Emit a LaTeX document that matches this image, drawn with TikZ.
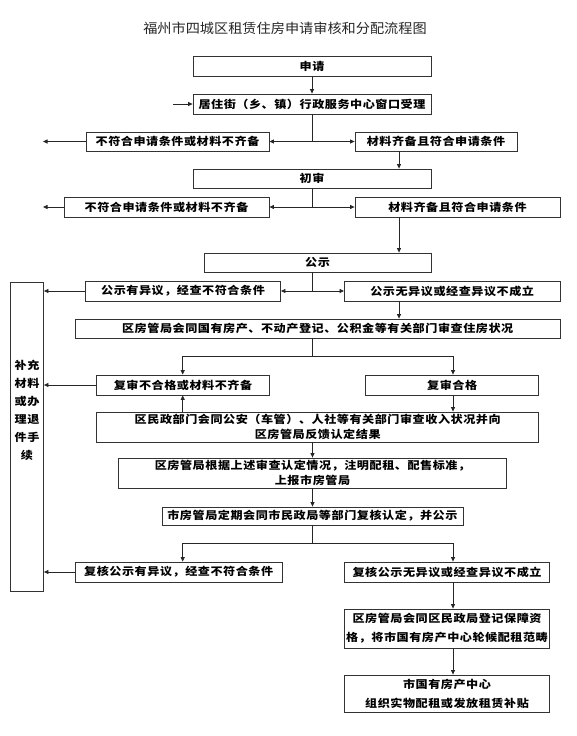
\documentclass[tikz,border=0pt]{standalone}
\usepackage{fontspec}
\newfontfamily\cjk[FakeStretch=1.12,LetterSpace=5]{Noto Sans CJK SC}
\newfontfamily\cjktitle[FakeStretch=1.05]{Noto Sans CJK SC}
\usetikzlibrary{arrows.meta}
\tikzset{
  box/.style={draw=black!80, line width=0.8pt, inner sep=0pt, align=center,
    font=\fontsize{10.8}{15}\cjk\bfseries},
  link/.style={draw=black!85, line width=0.8pt},
  conn/.style={link, -{Triangle[length=4.5pt,width=4pt]}},
}
\begin{document}
\begin{tikzpicture}[x=1pt,y=-1pt]
\useasboundingbox (0,0) rectangle (577,736);
\node[font=\fontsize{13.5}{16}\cjktitle, text=black!85] (title) at (285,28) {福州市四城区租赁住房申请审核和分配流程图};

% columns used by the drops
\coordinate (lc) at (182.7,0);
\coordinate (rc) at (399,0);
\coordinate (rr) at (453,0);

\node[box, minimum width=238pt, minimum height=20pt] (apply) at (312,66) {申请};
\node[box, minimum width=238pt, minimum height=20pt] (accept) at (312,104) {居住街（乡、镇）行政服务中心窗口受理};
\node[box, minimum width=183pt, minimum height=19pt] (fail1) at (177.5,141.5) {不符合申请条件或材料不齐备};
\node[box, minimum width=162pt, minimum height=19pt] (ok1) at (436,141.5) {材料齐备且符合申请条件};
\node[box, minimum width=238pt, minimum height=19pt] (first) at (312,178.5) {初审};
\node[box, minimum width=205pt, minimum height=20pt] (fail2) at (166.5,207) {不符合申请条件或材料不齐备};
\node[box, minimum width=205pt, minimum height=20pt] (ok2) at (457.5,207) {材料齐备且符合申请条件};
\node[box, minimum width=227pt, minimum height=19pt] (notice) at (317.5,262.5) {公示};
\node[box, minimum width=195pt, minimum height=20pt] (obj) at (183,291) {公示有异议，经查不符合条件};
\node[box, minimum width=215.5pt, minimum height=20pt] (noobj) at (452.2,291) {公示无异议或经查异议不成立};
\node[box, minimum width=484.6pt, minimum height=19pt] (check) at (317.7,328.5) {区房管局会同国有房产、不动产登记、公积金等有关部门审查住房状况};
\node[box, minimum width=173pt, minimum height=20pt] (refail) at (183,385) {复审不合格或材料不齐备};
\node[box, minimum width=173pt, minimum height=20pt] (repass) at (452.2,385) {复审合格};
\node[box, minimum width=442pt, minimum height=30pt] (income) at (317.7,427) {区民政部门会同公安（车管）、人社等有关部门审查收入状况并向\\区房管局反馈认定结果};
\node[box, minimum width=388pt, minimum height=30pt] (report) at (312.5,473) {区房管局根据上述审查认定情况，注明配租、配售标准，\\上报市房管局};
\node[box, minimum width=301pt, minimum height=18pt] (review) at (312.4,516) {市房管局定期会同市民政局等部门复核认定，并公示};
\node[box, minimum width=206.6pt, minimum height=20pt] (pubfail) at (178.7,572) {复核公示有异议，经查不符合条件};
\node[box, minimum width=205pt, minimum height=20pt] (pubok) at (447,572) {复核公示无异议或经查异议不成立};
\node[box, minimum width=205pt, minimum height=39pt] (register) at (447,628.5) {区房管局会同区民政局登记保障资\\[4pt]格，将市国有房产中心轮候配租范畴};
\node[box, minimum width=205pt, minimum height=37pt] (issue) at (447,693.5) {市国有房产中心\\[4pt]组织实物配租或发放租赁补贴};
\node[box, minimum width=33pt, minimum height=309pt] (side) at (27,436.5) {};
\node[font=\fontsize{10.8}{18}\cjk\bfseries, align=center, inner sep=0pt] (sidetext) at (27,410) {补充\\材料\\或办\\理退\\件手\\续};

\coordinate (in) at (173,104);
\coordinate (out1) at (43,141.5);
\coordinate (out2) at (43,207);
\coordinate (j1) at (312.5,141.5);
\coordinate (j2) at (312.5,207);
\coordinate (j3) at (312.5,291);
\coordinate (j4) at (312.5,356);
\coordinate (j5) at (312.5,543);

\draw[conn] (apply) -- (accept);
\draw[conn] (in) -- (accept);
\draw[link] (accept.south -| j1) -- (j1);
\draw[conn] (j1) -- (fail1);
\draw[conn] (j1) -- (ok1);
\draw[conn] (fail1) -- (out1);
\draw[conn] (ok1.south -| rc) -- (first.north -| rc);
\draw[link] (first.south -| j2) -- (j2);
\draw[conn] (j2) -- (fail2);
\draw[conn] (j2) -- (ok2);
\draw[conn] (fail2) -- (out2);
\draw[conn] (ok2.south -| rc) -- (notice.north -| rc);
\draw[link] (notice.south -| j3) -- (j3);
\draw[conn] (j3) -- (obj);
\draw[conn] (j3) -- (noobj);
\draw[conn] (obj) -- (obj.west -| side.east);
\draw[conn] (noobj.south -| rc) -- (check.north -| rc);
\draw[link] (check.south -| j4) -- (j4);
\draw[link] (j4 -| lc) -- (j4 -| rr);
\draw[conn] (j4 -| lc) -- (refail.north -| lc);
\draw[conn] (j4 -| rr) -- (repass.north -| rr);
\draw[conn] (refail) -- (refail.west -| side.east);
\draw[conn] (repass.south -| rr) -- (income.north -| rr);
\draw[conn] (income.north -| lc) -- (refail.south -| lc);
\draw[conn] (income.south -| j4) -- (report.north -| j4);
\draw[conn] (report.south -| j4) -- (review.north -| j4);
\draw[link] (review.south -| j5) -- (j5);
\draw[link] (j5 -| lc) -- (j5 -| rr);
\draw[conn] (j5 -| lc) -- (pubfail.north -| lc);
\draw[conn] (j5 -| rr) -- (pubok.north -| rr);
\draw[conn] (pubfail) -- (pubfail.west -| side.east);
\draw[conn] (pubok.south -| rr) -- (register.north -| rr);
\draw[conn] (register.south -| rr) -- (issue.north -| rr);
\end{tikzpicture}
\end{document}
